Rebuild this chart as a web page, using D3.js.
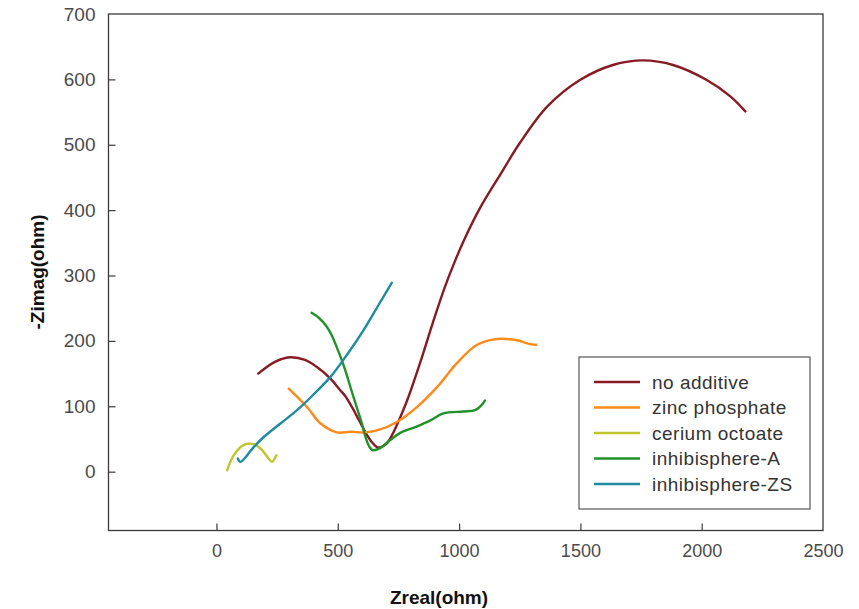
<!DOCTYPE html>
<html>
<head>
<meta charset="utf-8">
<script src="https://cdn.jsdelivr.net/npm/d3@7"></script>
<style>
  html, body { margin: 0; padding: 0; background: #fff; }
  svg { display: block; }
</style>
</head>
<body>
<svg id="chart" width="859" height="609"></svg>
<script>
// ---- data (Zreal, -Zimag in ohm) ----
const seriesNames = ["no additive", "zinc phosphate", "cerium octoate", "inhibisphere-A", "inhibisphere-ZS"];
const seriesColors = ["#861b24", "#ff8a1c", "#c2c42c", "#21922a", "#1f8c9e"];

const noAdditive = [
  [172,150],[241,168],[303,175],[365,171],[414,160],[468,143],[509,125],[530,116],
  [558,99],[587,79],[616,59],[641,45],[665,37],[699,42],[728,59],[756,82],[785,108],
  [839,166],[892,228],[942,283],[983,322],[1024,357],[1086,403],[1169,454],[1251,503],
  [1362,558],[1498,599],[1634,622],[1758,629],[1882,622],[2021,599],[2118,574],[2180,551]
];
const zincPhosphate = [
  [298,127],[373,99],[428,74],[497,60],[552,61],[607,60],[662,63],[744,76],[827,99],
  [911,130],[991,166],[1074,194],[1156,203],[1238,201],[1293,195],[1318,194]
];
const ceriumOctoate = [
  [44,2],[71,25],[113,41],[154,42],[188,33],[215,20],[229,15],[247,25]
];
const inhibisphereA = [
  [392,243],[423,235],[454,222],[476,208],[495,191],[513,174],[530,156],[564,115],
  [599,74],[616,51],[629,39],[643,33],[674,36],[715,48],[756,59],[825,69],[880,78],
  [935,89],[1017,92],[1066,94],[1093,102],[1107,109]
];
const inhibisphereZS = [
  [88,20],[99,15],[150,36],[195,53],[265,74],[332,94],[400,118],[470,145],[540,180],
  [607,217],[665,253],[723,289]
];
const seriesData = [noAdditive, zincPhosphate, ceriumOctoate, inhibisphereA, inhibisphereZS];

const xTicks = [0, 500, 1000, 1500, 2000, 2500];
const yTicks = [0, 100, 200, 300, 400, 500, 600, 700];
const xDomain = [-445, 2500];
const yDomain = [-90, 700];

// ---- layout ----
const svg = d3.select("#chart");
const pLeft = 108.5, pRight = 823, pTop = 14, pBottom = 530.5;

const x = d3.scaleLinear().domain(xDomain).range([pLeft, pRight]);
const y = d3.scaleLinear().domain(yDomain).range([pBottom, pTop]);

// frame
svg.append("rect")
  .attr("x", pLeft).attr("y", pTop)
  .attr("width", pRight - pLeft).attr("height", pBottom - pTop)
  .attr("fill", "none").attr("stroke", "#3a3a3a").attr("stroke-width", 1.3);

// x axis (ticks inward)
const xAxis = d3.axisBottom(x).tickValues(xTicks).tickSize(-7).tickPadding(14)
  .tickFormat(d3.format("d"));
const gx = svg.append("g").attr("transform", `translate(0,${pBottom})`).call(xAxis);
gx.select(".domain").remove();
gx.selectAll(".tick line").attr("stroke", "#3a3a3a").attr("stroke-width", 1.2)
  .filter(d => d === 2500).remove();
gx.selectAll(".tick text")
  .attr("font-family", "Liberation Sans, Arial, sans-serif")
  .attr("font-size", 18).attr("fill", "#4a4a4a");

// y axis (ticks inward)
const yAxis = d3.axisLeft(y).tickValues(yTicks).tickSize(-7).tickPadding(13)
  .tickFormat(d3.format("d"));
const gy = svg.append("g").attr("transform", `translate(${pLeft},0)`).call(yAxis);
gy.select(".domain").remove();
gy.selectAll(".tick line").attr("stroke", "#3a3a3a").attr("stroke-width", 1.2)
  .filter(d => d === 700).remove();
gy.selectAll(".tick text")
  .attr("font-family", "Liberation Sans, Arial, sans-serif")
  .attr("font-size", 19).attr("fill", "#4a4a4a");

// axis titles
svg.append("text")
  .attr("x", 439).attr("y", 604)
  .attr("text-anchor", "middle")
  .attr("font-family", "Liberation Sans, Arial, sans-serif")
  .attr("font-weight", "bold").attr("font-size", 19).attr("fill", "#111")
  .text("Zreal(ohm)");

svg.append("text")
  .attr("transform", "translate(44,272) rotate(-90)")
  .attr("text-anchor", "middle")
  .attr("font-family", "Liberation Sans, Arial, sans-serif")
  .attr("font-weight", "bold").attr("font-size", 19).attr("fill", "#111")
  .text("-Zimag(ohm)");

// lines
const line = d3.line().x(d => x(d[0])).y(d => y(d[1])).curve(d3.curveCatmullRom.alpha(0.5));
seriesData.forEach((data, i) => {
  svg.append("path")
    .datum(data)
    .attr("d", line)
    .attr("fill", "none")
    .attr("stroke", seriesColors[i])
    .attr("stroke-width", 2.4)
    .attr("stroke-linejoin", "round")
    .attr("stroke-linecap", "round");
});

// legend
const lg = svg.append("g");
lg.append("rect")
  .attr("x", 579).attr("y", 357).attr("width", 231).attr("height", 152)
  .attr("fill", "#fff").attr("stroke", "#555").attr("stroke-width", 1.2);
seriesNames.forEach((name, i) => {
  const yy = 382 + i * 25.5;
  lg.append("line")
    .attr("x1", 594).attr("x2", 640).attr("y1", yy).attr("y2", yy)
    .attr("stroke", seriesColors[i]).attr("stroke-width", 2.4);
  lg.append("text")
    .attr("x", 652).attr("y", yy + 6.5)
    .attr("font-family", "Liberation Sans, Arial, sans-serif")
    .attr("font-size", 19).attr("letter-spacing", 0.5).attr("fill", "#333")
    .text(name);
});
</script>
</body>
</html>
